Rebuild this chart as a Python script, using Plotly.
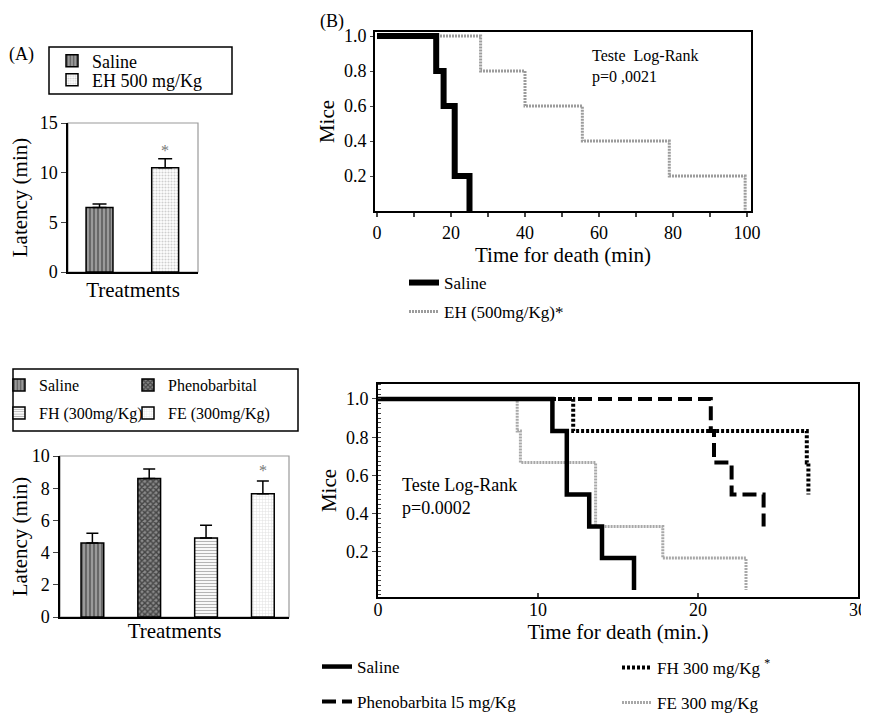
import plotly.graph_objects as go

W, H = 869, 713
OFF = 8  # page body margin of the browser
FONT = "Liberation Serif"

# ---------------- data ----------------
# Panel A (bars)
a_groups = ["Saline", "EH 500 mg/Kg"]
a_latency = [6.5, 10.5]
a_sem = [0.35, 0.9]

# Panel B (survival)
b_saline_t = [0, 16, 18, 21, 25]
b_saline_s = [1.0, 0.8, 0.6, 0.2, 0.0]
b_eh_t = [0, 28, 40, 55.5, 79, 99.5]
b_eh_s = [1.0, 0.8, 0.6, 0.4, 0.2, 0.0]

# Panel C (bars)
c_groups = ["Saline", "Phenobarbital", "FH (300mg/Kg)", "FE (300mg/Kg)"]
c_latency = [4.6, 8.6, 4.9, 7.65]
c_sem = [0.6, 0.6, 0.8, 0.8]

# Panel D (survival)
d_saline_t = [0, 10.9, 11.8, 13.2, 14.0, 16.0]
d_saline_s = [1.0, 0.833, 0.5, 0.333, 0.167, 0.0]
d_pheno_t = [0, 20.8, 21.0, 22.1, 24.1]
d_pheno_s = [1.0, 0.833, 0.667, 0.5, 0.333]
d_fh_t = [0, 12.2, 26.8, 26.9]
d_fh_s = [1.0, 0.833, 0.667, 0.5]
d_fe_t = [0, 8.7, 8.9, 13.6, 17.8, 23.0]
d_fe_s = [1.0, 0.833, 0.667, 0.333, 0.167, 0.0]

# ---------------- helpers ----------------
def fx(px):
    return (px - OFF) / W

def fy(py):
    return 1 - (py - OFF) / H

def leg(xpx, ypx, size=17):
    return dict(x=fx(xpx), y=fy(ypx), xanchor="left", yanchor="middle",
                xref="paper", yref="paper", bgcolor="rgba(0,0,0,0)",
                borderwidth=0, font=dict(family=FONT, size=size, color="black"),
                itemclick=False, itemdoubleclick=False)

pat_saline = dict(shape="|", fgcolor="#2a2a2a", bgcolor="#9a9a9a", size=4, solidity=0.45)
pat_eh = dict(shape=".", fgcolor="#a0a0a0", bgcolor="#ffffff", size=3, solidity=0.4)
pat_pheno = dict(shape="x", fgcolor="#000000", bgcolor="#8a8a8a", size=4, solidity=0.6)
pat_fh = dict(shape="-", fgcolor="#6a6a6a", bgcolor="#ffffff", size=3, solidity=0.4)
pat_fe = dict(shape="+", fgcolor="#c0c0c0", bgcolor="#ffffff", size=3, solidity=0.3)

fig = go.Figure()

# ---------------- Panel A ----------------
a_pats = [pat_saline, pat_eh]
a_legs = ["legend", "legend2"]
for i in range(len(a_groups)):
    fig.add_trace(go.Bar(
        x=[i], y=[a_latency[i]], name=a_groups[i], width=0.41,
        marker=dict(pattern=a_pats[i], line=dict(color="black", width=1.5)),
        error_y=dict(type="data", array=[a_sem[i]], arrayminus=[0], symmetric=False,
                     color="black", thickness=1.5, width=7),
        xaxis="x", yaxis="y", legend=a_legs[i]))

# ---------------- Panel B ----------------
fig.add_trace(go.Scatter(x=b_eh_t, y=b_eh_s, mode="lines", line_shape="hv",
                         name="EH (500mg/Kg)*", line=dict(color="#9c9c9c", width=3, dash="2px,1px"),
                         xaxis="x2", yaxis="y2", legend="legend4"))
fig.add_trace(go.Scatter(x=b_saline_t, y=b_saline_s, mode="lines", line_shape="hv",
                         name="Saline", line=dict(color="black", width=6),
                         xaxis="x2", yaxis="y2", legend="legend3"))

# ---------------- Panel C ----------------
c_pats = [pat_saline, pat_pheno, pat_fh, pat_fe]
c_legs = ["legend5", "legend6", "legend7", "legend8"]
for i in range(len(c_groups)):
    fig.add_trace(go.Bar(
        x=[i], y=[c_latency[i]], name=c_groups[i], width=0.4,
        marker=dict(pattern=c_pats[i], line=dict(color="black", width=1.5)),
        error_y=dict(type="data", array=[c_sem[i]], arrayminus=[0], symmetric=False,
                     color="black", thickness=1.5, width=6),
        xaxis="x3", yaxis="y3", legend=c_legs[i]))

# ---------------- Panel D ----------------
fig.add_trace(go.Scatter(x=d_fe_t, y=d_fe_s, mode="lines", line_shape="hv",
                         name="FE 300 mg/Kg", line=dict(color="#a8a8a8", width=3, dash="2px,1px"),
                         xaxis="x4", yaxis="y4", legend="legend12"))
fig.add_trace(go.Scatter(x=d_saline_t, y=d_saline_s, mode="lines", line_shape="hv",
                         name="Saline", line=dict(color="black", width=4.5),
                         xaxis="x4", yaxis="y4", legend="legend9"))
fig.add_trace(go.Scatter(x=d_fh_t, y=d_fh_s, mode="lines", line_shape="hv",
                         name="FH 300 mg/Kg <sup>*</sup>", line=dict(color="black", width=4, dash="3px,2px"),
                         xaxis="x4", yaxis="y4", legend="legend11"))
fig.add_trace(go.Scatter(x=d_pheno_t, y=d_pheno_s, mode="lines", line_shape="hv",
                         name="Phenobarbita l5 mg/Kg", line=dict(color="black", width=4, dash="14px,6px"),
                         xaxis="x4", yaxis="y4", legend="legend10"))

tickfont = dict(family=FONT, size=18, color="black")
titlefont = dict(family=FONT, size=21, color="black")

layout = dict(
    width=W, height=H, margin=dict(l=0, r=0, t=0, b=0, autoexpand=False),
    paper_bgcolor="white", plot_bgcolor="white", barmode="overlay",
    showlegend=True,
    # Panel A axes
    xaxis=dict(domain=[fx(68), fx(198)], range=[-0.48, 1.5], showticklabels=False, ticks="",
               showgrid=False, zeroline=False, showline=True, linecolor="black", linewidth=1.5,
               title=dict(text="Treatments", font=titlefont, standoff=10), automargin=False),
    yaxis=dict(domain=[fy(272), fy(123)], range=[0, 15], tickvals=[0, 5, 10, 15],
               ticks="outside", ticklen=5, tickwidth=1.2, tickfont=tickfont,
               showgrid=False, zeroline=False, showline=True, linecolor="black", linewidth=1.5,
               title=dict(text="Latency (min)", font=titlefont, standoff=8), automargin=False,
               anchor="x"),
    # Panel B axes
    xaxis2=dict(domain=[fx(375), fx(751)], range=[-0.54, 101.08], anchor="y2",
                tickvals=[0, 20, 40, 60, 80, 100],
                ticks="outside", ticklen=4, tickwidth=1.5, tickfont=tickfont,
                minor=dict(dtick=10, ticks="outside", ticklen=4, tickwidth=1.5),
                showgrid=False, zeroline=False, showline=True, mirror=True,
                linecolor="black", linewidth=2,
                title=dict(text="Time for death (min)", font=titlefont, standoff=3), automargin=False),
    yaxis2=dict(domain=[fy(211), fy(32)], range=[0, 1.023], anchor="x2",
                tickvals=[0.2, 0.4, 0.6, 0.8, 1.0], ticktext=["0.2", "0.4", "0.6", "0.8", "1.0"],
                ticks="outside", ticklen=3, tickwidth=1.2, tickfont=tickfont,
                showgrid=False, zeroline=False, showline=True, mirror=True,
                linecolor="black", linewidth=2,
                title=dict(text="Mice", font=titlefont, standoff=4), automargin=False),
    # Panel C axes
    xaxis3=dict(domain=[fx(60), fx(289)], range=[-0.57, 3.46], anchor="y3",
                showticklabels=False, ticks="", showgrid=False, zeroline=False,
                showline=True, linecolor="black", linewidth=1.5,
                title=dict(text="Treatments", font=titlefont, standoff=6), automargin=False),
    yaxis3=dict(domain=[fy(617), fy(456)], range=[0, 10], anchor="x3",
                tickvals=[0, 2, 4, 6, 8, 10], ticks="outside", ticklen=5, tickwidth=1.2,
                tickfont=tickfont, showgrid=False, zeroline=False, showline=True,
                linecolor="black", linewidth=1.5,
                title=dict(text="Latency (min)", font=titlefont, standoff=8), automargin=False),
    # Panel D axes
    xaxis4=dict(domain=[fx(378), fx(858)], range=[0, 30], anchor="y4",
                tickvals=[0, 10, 20, 30], ticks="inside", ticklen=4, tickwidth=1.5,
                tickfont=tickfont, ticklabelstandoff=-5,
                showgrid=False, zeroline=False, showline=True, mirror=True,
                linecolor="black", linewidth=2,
                title=dict(text="Time for death (min.)", font=titlefont, standoff=0), automargin=False),
    yaxis4=dict(domain=[fy(597), fy(384)], range=[-0.0366, 1.0785], anchor="x4",
                tickvals=[0.2, 0.4, 0.6, 0.8, 1.0], ticktext=["0.2", "0.4", "0.6", "0.8", "1.0"],
                ticks="outside", ticklen=4, tickwidth=1.2, tickfont=tickfont,
                minor=dict(dtick=0.025, ticks="inside", ticklen=3, tickwidth=1),
                showgrid=False, zeroline=False, showline=True, mirror=True,
                linecolor="black", linewidth=2,
                title=dict(text="Mice", font=titlefont, standoff=4), automargin=False),
    # legends
    legend=leg(52, 61, 18),
    legend2=leg(52, 80, 18),
    legend3=leg(404, 283, 17),
    legend4=leg(404, 312, 17),
    legend5=leg(-1, 385, 16),
    legend6=leg(128, 385, 16),
    legend7=leg(-1, 413, 16),
    legend8=leg(128, 413, 16),
    legend9=leg(317, 667, 17),
    legend10=leg(317, 702, 17),
    legend11=leg(617, 668, 17),
    legend12=leg(617, 703, 17),
)
fig.update_layout(**layout)

shapes = [
    # gray frames (top/right) for bar panels
    dict(type="rect", xref="x domain", yref="y domain", x0=0, x1=1, y0=0, y1=1,
         line=dict(color="#9a9a9a", width=1.2), layer="below"),
    dict(type="rect", xref="x3 domain", yref="y3 domain", x0=0, x1=1, y0=0, y1=1,
         line=dict(color="#9a9a9a", width=1.2), layer="below"),
    # legend boxes
    dict(type="rect", xref="paper", yref="paper", x0=fx(49), x1=fx(232), y0=fy(94), y1=fy(47),
         line=dict(color="black", width=1.5)),
    dict(type="rect", xref="paper", yref="paper", x0=fx(13), x1=fx(298), y0=fy(431), y1=fy(369),
         line=dict(color="black", width=1.5)),
]
fig.update_layout(shapes=shapes)

ann_font = dict(family=FONT, size=18, color="black")
annotations = [
    dict(text="(A)", x=fx(21), y=fy(55), xref="paper", yref="paper", showarrow=False,
         font=ann_font, xanchor="center", yanchor="middle"),
    dict(text="(B)", x=fx(332), y=fy(22), xref="paper", yref="paper", showarrow=False,
         font=ann_font, xanchor="center", yanchor="middle"),
    dict(text="Teste  Log-Rank<br>p=0 ,0021", x=fx(590), y=fy(67), xref="paper", yref="paper",
         showarrow=False, font=dict(family=FONT, size=16, color="black"),
         xanchor="left", yanchor="middle", align="left"),
    dict(text="Teste Log-Rank<br>p=0.0002", x=fx(400), y=fy(496), xref="paper", yref="paper",
         showarrow=False, font=dict(family=FONT, size=18, color="black"),
         xanchor="left", yanchor="middle", align="left"),
    dict(text="*", x=1, y=a_latency[1] + a_sem[1], xref="x", yref="y", showarrow=False,
         font=dict(family=FONT, size=16, color="#777"), yanchor="bottom", yshift=-2),
    dict(text="*", x=3, y=c_latency[3] + c_sem[3], xref="x3", yref="y3", showarrow=False,
         font=dict(family=FONT, size=16, color="#777"), yanchor="bottom", yshift=0),
]
fig.update_layout(annotations=annotations)

fig.write_html("out.html")
